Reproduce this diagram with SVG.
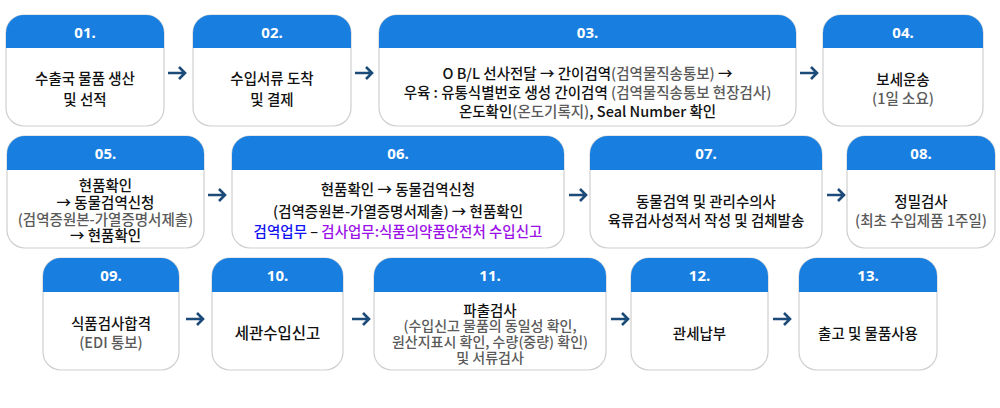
<svg xmlns="http://www.w3.org/2000/svg" width="1000" height="408" viewBox="0 0 1000 408">
<style>
.box{fill:#fff;stroke:#cfcfcf;stroke-width:1.2}
.hd{fill:#187edf}
.num{font-family:"Noto Sans","Noto Sans CJK KR",sans-serif;font-size:15px;font-weight:bold;fill:#fff;text-anchor:middle;dominant-baseline:central}
.t{font-family:"Noto Sans CJK KR","Noto Sans",sans-serif;font-size:14.5px;font-weight:500;fill:#111;text-anchor:middle;dominant-baseline:central}
.s{font-size:14px}
.g{fill:#5a5a5a}
.b{fill:#1212f0}
.p{fill:#9b12e6}
.arr{fill:none;stroke:#1c4a79;stroke-width:2.6}
</style>
<rect width="1000" height="408" fill="#fff"/>
<g id="connectors">
<path class="arr" d="M168,73H185M179,67L185,73L179,79"/>
<path class="arr" d="M355,73H372M366,67L372,73L366,79"/>
<path class="arr" d="M800,73H817M811,67L817,73L811,79"/>
<path class="arr" d="M208,195H225M219,189L225,195L219,201"/>
<path class="arr" d="M569,195H586M580,189L586,195L580,201"/>
<path class="arr" d="M827,195H844M838,189L844,195L838,201"/>
<path class="arr" d="M186,319H203M197,313L203,319L197,325"/>
<path class="arr" d="M352,319H369M363,313L369,319L363,325"/>
<path class="arr" d="M611,319H628M622,313L628,319L622,325"/>
<path class="arr" d="M773,319H790M784,313L790,319L784,325"/>
</g>
<g id="n01">
<rect class="box" x="6" y="15" width="158" height="111" rx="18"/>
<path class="hd" d="M6,48V33A18,18 0 0 1 24,15H146A18,18 0 0 1 164,33V48Z"/>
<text class="num" x="85" y="32">01.</text>
<text class="t" x="85" y="77">수출국 물품 생산</text>
<text class="t" x="85" y="98">및 선적</text>
</g>
<g id="n02">
<rect class="box" x="193" y="15" width="158" height="111" rx="18"/>
<path class="hd" d="M193,48V33A18,18 0 0 1 211,15H333A18,18 0 0 1 351,33V48Z"/>
<text class="num" x="272" y="32">02.</text>
<text class="t" x="272" y="77">수입서류 도착</text>
<text class="t" x="272" y="98">및 결제</text>
</g>
<g id="n03">
<rect class="box" x="379" y="15" width="417" height="111" rx="18"/>
<path class="hd" d="M379,48V33A18,18 0 0 1 397,15H778A18,18 0 0 1 796,33V48Z"/>
<text class="num" x="587.5" y="32">03.</text>
<text class="t" x="587.5" y="72">O B/L 선사전달 → 간이검역<tspan class="g">(검역물직송통보)</tspan> →</text>
<text class="t" x="587.5" y="91">우육 : 유통식별번호 생성 간이검역 <tspan class="g">(검역물직송통보 현장검사)</tspan></text>
<text class="t" x="587.5" y="110">온도확인<tspan class="g">(온도기록지)</tspan>, Seal Number 확인</text>
</g>
<g id="n04">
<rect class="box" x="823" y="15" width="160" height="111" rx="18"/>
<path class="hd" d="M823,48V33A18,18 0 0 1 841,15H965A18,18 0 0 1 983,33V48Z"/>
<text class="num" x="903" y="32">04.</text>
<text class="t" x="903" y="78">보세운송</text>
<text class="t g" x="903" y="97">(1일 소요)</text>
</g>
<g id="n05">
<rect class="box" x="7" y="136" width="197" height="112" rx="18"/>
<path class="hd" d="M7,170V154A18,18 0 0 1 25,136H186A18,18 0 0 1 204,154V170Z"/>
<text class="num" x="105.5" y="153">05.</text>
<text class="t" x="105.5" y="184">현품확인</text>
<text class="t" x="105.5" y="201">→  동물검역신청</text>
<text class="t g" x="105.5" y="218">(검역증원본-가열증명서제출)</text>
<text class="t" x="105.5" y="234">→ 현품확인</text>
</g>
<g id="n06">
<rect class="box" x="232" y="136" width="332" height="112" rx="18"/>
<path class="hd" d="M232,170V154A18,18 0 0 1 250,136H546A18,18 0 0 1 564,154V170Z"/>
<text class="num" x="398" y="153">06.</text>
<text class="t" x="398" y="188">현품확인 → 동물검역신청</text>
<text class="t" x="398" y="210">(검역증원본-가열증명서제출) → 현품확인</text>
<text class="t" x="398" y="230"><tspan class="b">검역업무</tspan> – <tspan class="p">검사업무:식품의약품안전처 수입신고</tspan></text>
</g>
<g id="n07">
<rect class="box" x="590" y="136" width="232" height="112" rx="18"/>
<path class="hd" d="M590,170V154A18,18 0 0 1 608,136H804A18,18 0 0 1 822,154V170Z"/>
<text class="num" x="706" y="153">07.</text>
<text class="t" x="706" y="200">동물검역 및 관리수의사</text>
<text class="t" x="706" y="219">육류검사성적서 작성 및 검체발송</text>
</g>
<g id="n08">
<rect class="box" x="847" y="136" width="148" height="112" rx="18"/>
<path class="hd" d="M847,170V154A18,18 0 0 1 865,136H977A18,18 0 0 1 995,154V170Z"/>
<text class="num" x="921" y="153">08.</text>
<text class="t" x="921" y="200">정밀검사</text>
<text class="t g" x="921" y="219">(최초 수입제품 1주일)</text>
</g>
<g id="n09">
<rect class="box" x="43" y="258" width="136" height="112" rx="18"/>
<path class="hd" d="M43,292V276A18,18 0 0 1 61,258H161A18,18 0 0 1 179,276V292Z"/>
<text class="num" x="111" y="275">09.</text>
<text class="t" x="111" y="322">식품검사합격</text>
<text class="t g" x="111" y="341">(EDI 통보)</text>
</g>
<g id="n10">
<rect class="box" x="212" y="258" width="131" height="112" rx="18"/>
<path class="hd" d="M212,292V276A18,18 0 0 1 230,258H325A18,18 0 0 1 343,276V292Z"/>
<text class="num" x="277.5" y="275">10.</text>
<text class="t" x="277.5" y="332" style="font-size:15.5px">세관수입신고</text>
</g>
<g id="n11">
<rect class="box" x="374" y="258" width="232" height="112" rx="18"/>
<path class="hd" d="M374,292V276A18,18 0 0 1 392,258H588A18,18 0 0 1 606,276V292Z"/>
<text class="num" x="490" y="275">11.</text>
<text class="t" x="490" y="309">파출검사</text>
<text class="t s g" x="490" y="325">(수입신고 물품의 동일성 확인,</text>
<text class="t s g" x="490" y="341">원산지표시 확인, 수량(중량) 확인)</text>
<text class="t s g" x="490" y="357">및 서류검사</text>
</g>
<g id="n12">
<rect class="box" x="631" y="258" width="137" height="112" rx="18"/>
<path class="hd" d="M631,292V276A18,18 0 0 1 649,258H750A18,18 0 0 1 768,276V292Z"/>
<text class="num" x="699.5" y="275">12.</text>
<text class="t" x="699.5" y="332">관세납부</text>
</g>
<g id="n13">
<rect class="box" x="799" y="258" width="138" height="112" rx="18"/>
<path class="hd" d="M799,292V276A18,18 0 0 1 817,258H919A18,18 0 0 1 937,276V292Z"/>
<text class="num" x="868" y="275">13.</text>
<text class="t" x="868" y="332">출고 및 물품사용</text>
</g>
</svg>
